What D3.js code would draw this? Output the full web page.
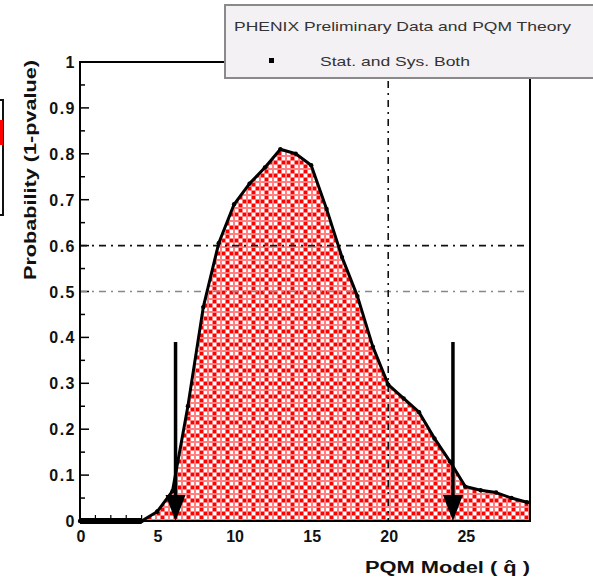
<!DOCTYPE html>
<html>
<head>
<meta charset="utf-8">
<script src="https://cdn.jsdelivr.net/npm/d3@7"></script>
<style>
  html, body { margin: 0; padding: 0; background: #ffffff; }
  svg { display: block; }
  text { font-family: "Liberation Sans", Arial, sans-serif; }
</style>
</head>
<body>
<svg id="chart" width="593" height="577"></svg>
<script>
// PQM transport parameter values (q-hat) and the probability (1 - p-value)
const qhat = [0, 1, 2, 3, 4, 5, 6, 7, 8, 9, 10, 11, 12, 13, 14, 15, 16, 17, 18, 19, 20, 21, 22, 23, 24, 25, 26, 27, 28, 29];
const prob = [0, 0, 0, 0, 0, 0.02, 0.065, 0.25, 0.466, 0.605, 0.69, 0.735, 0.77, 0.81, 0.80, 0.775, 0.68, 0.575, 0.49, 0.38, 0.297, 0.267, 0.237, 0.18, 0.13, 0.075, 0.067, 0.062, 0.05, 0.041];

// Limits marked with arrows and the height the arrows start from
const limitX = [6.2, 24.2];
const arrowTop = 0.39;

// Reference lines
const refY = [0.6, 0.5];
const refX = [20];

// Axis ticks
const xTicks = [0, 5, 10, 15, 20, 25];
const xTickLabels = ["0", "5", "10", "15", "20", "25"];
const yTicks = [0, 0.1, 0.2, 0.3, 0.4, 0.5, 0.6, 0.7, 0.8, 0.9, 1];
const yTickLabels = ["0", "0.1", "0.2", "0.3", "0.4", "0.5", "0.6", "0.7", "0.8", "0.9", "1"];

const legendTitle = "PHENIX Preliminary Data and PQM Theory";
const legendEntry = "Stat. and Sys. Both";
const xTitle = "PQM Model ( q\u0302 )";
const yTitle = "Probability (1-pvalue)";

const svg = d3.select("#chart");

const x = d3.scaleLinear().domain([0, 29.2]).range([80, 530]);
const y = d3.scaleLinear().domain([0, 1]).range([521, 62]);

// Fill pattern: light red ground with small clusters of red / white squares
const defs = svg.append("defs");
const T = 13;
const pat = defs.append("pattern")
  .attr("id", "hatch")
  .attr("patternUnits", "userSpaceOnUse")
  .attr("width", T).attr("height", T);
pat.append("rect").attr("width", T).attr("height", T).attr("fill", "#ff8080");
[[1, 1, "#ffffff"], [5, 1, "#ff0000"], [1, 5, "#ff0000"], [5, 5, "#ffffff"],
 [9, 1, "#ffffff"], [9, 5, "#ff0000"], [1, 9, "#ffffff"], [5, 9, "#ff0000"], [9, 9, "#ffffff"]]
  .forEach(s => pat.append("rect").attr("x", s[0]).attr("y", s[1])
    .attr("width", 3).attr("height", 3).attr("fill", s[2]));

// Clipped fragment at the far left edge
svg.append("rect").attr("x", -4).attr("y", 100).attr("width", 7).attr("height", 115)
  .attr("fill", "none").attr("stroke", "#111").attr("stroke-width", 2);
svg.append("rect").attr("x", 0).attr("y", 120).attr("width", 3).attr("height", 25).attr("fill", "#ff0000");

// Minor / major ticks on axes (inside the frame)
const yMinor = d3.range(0, 1.0001, 0.05);
svg.append("g").selectAll("line").data(yMinor).join("line")
  .attr("x1", x(0)).attr("x2", d => x(0) + (Math.abs(d * 10 - Math.round(d * 10)) < 1e-6 ? 9 : 5))
  .attr("y1", d => y(d)).attr("y2", d => y(d))
  .attr("stroke", "#000").attr("stroke-width", 1.5);
const xMinor = d3.range(0, 29.01, 1);
svg.append("g").selectAll("line").data(xMinor).join("line")
  .attr("x1", d => x(d)).attr("x2", d => x(d))
  .attr("y1", y(0)).attr("y2", d => y(0) - (d % 5 === 0 ? 12 : 6))
  .attr("stroke", "#000").attr("stroke-width", 1.2);

// Area under the probability curve
const pts = qhat.map((q, i) => [q, prob[i]]);
const area = d3.area().x(d => x(d[0])).y0(y(0)).y1(d => y(d[1]));
svg.append("path").datum(pts.concat([[29.2, prob[prob.length - 1] - 0.001]]))
  .attr("d", area).attr("fill", "url(#hatch)");

// Reference lines (dash-dot)
svg.append("g").selectAll("line").data(refY).join("line")
  .attr("x1", x(0)).attr("x2", x(29.2))
  .attr("y1", d => y(d)).attr("y2", d => y(d))
  .attr("stroke", (d, i) => i === 0 ? "#111" : "#888")
  .attr("stroke-width", 1.6)
  .attr("stroke-dasharray", "7,5,2,5");
svg.append("g").selectAll("line").data(refX).join("line")
  .attr("x1", d => x(d)).attr("x2", d => x(d))
  .attr("y1", y(1)).attr("y2", y(0))
  .attr("stroke", "#111").attr("stroke-width", 1.6)
  .attr("stroke-dasharray", "7,5,2,5");

// Frame
svg.append("rect").attr("x", x(0)).attr("y", y(1))
  .attr("width", x(29.2) - x(0)).attr("height", y(0) - y(1))
  .attr("fill", "none").attr("stroke", "#000").attr("stroke-width", 2);

// Probability curve
const line = d3.line().x(d => x(d[0])).y(d => y(d[1]));
svg.append("path").datum(pts.concat([[29.2, prob[prob.length - 1] - 0.001]]))
  .attr("d", line).attr("fill", "none")
  .attr("stroke", "#000").attr("stroke-width", 3).attr("stroke-linejoin", "round");
svg.append("path").datum(pts.filter(d => d[0] <= 4))
  .attr("d", line).attr("fill", "none")
  .attr("stroke", "#000").attr("stroke-width", 6);
svg.append("g").selectAll("circle").data(pts).join("circle")
  .attr("cx", d => x(d[0])).attr("cy", d => y(d[1])).attr("r", 2.2).attr("fill", "#000");

// Limit arrows
const arrows = svg.append("g");
limitX.forEach(v => {
  arrows.append("line")
    .attr("x1", x(v)).attr("x2", x(v))
    .attr("y1", y(arrowTop)).attr("y2", y(0) - 20)
    .attr("stroke", "#000").attr("stroke-width", 3.5);
  arrows.append("path")
    .attr("d", `M${x(v) - 10},${y(0) - 26} L${x(v) + 10},${y(0) - 26} L${x(v)},${y(0)} Z`)
    .attr("fill", "#000");
});

// Tick labels
svg.append("g").selectAll("text").data(yTicks).join("text")
  .attr("x", 76).attr("y", d => y(d) + 6)
  .attr("text-anchor", "end")
  .attr("font-size", 16).attr("font-weight", "bold").attr("letter-spacing", 1.5)
  .attr("fill", "#111")
  .text((d, i) => yTickLabels[i]);
svg.append("g").selectAll("text").data(xTicks).join("text")
  .attr("x", d => x(d) + 1).attr("y", 542)
  .attr("text-anchor", "middle")
  .attr("font-size", 16).attr("font-weight", "bold")
  .attr("fill", "#111")
  .text((d, i) => xTickLabels[i]);

// Axis titles
svg.append("text")
  .attr("transform", "translate(36,170) rotate(-90)")
  .attr("text-anchor", "middle")
  .attr("font-size", 16).attr("font-weight", "bold").attr("fill", "#111")
  .attr("textLength", 220).attr("lengthAdjust", "spacingAndGlyphs")
  .text(yTitle);
svg.append("text")
  .attr("x", 530).attr("y", 573)
  .attr("text-anchor", "end")
  .attr("font-size", 16).attr("font-weight", "bold").attr("fill", "#111")
  .attr("textLength", 165).attr("lengthAdjust", "spacingAndGlyphs")
  .text(xTitle);

// Legend box
const lg = svg.append("g");
lg.append("rect").attr("x", 225).attr("y", 5).attr("width", 380).attr("height", 73)
  .attr("fill", "#f4f1f4").attr("stroke", "#8a8a8a").attr("stroke-width", 2);
lg.append("text").attr("x", 234).attr("y", 31)
  .attr("font-size", 13).attr("fill", "#333")
  .attr("textLength", 337).attr("lengthAdjust", "spacingAndGlyphs")
  .text(legendTitle);
lg.append("rect").attr("x", 269).attr("y", 58).attr("width", 5).attr("height", 5).attr("fill", "#000");
lg.append("text").attr("x", 320).attr("y", 66)
  .attr("font-size", 13).attr("fill", "#333")
  .attr("textLength", 150).attr("lengthAdjust", "spacingAndGlyphs")
  .text(legendEntry);
</script>
</body>
</html>
